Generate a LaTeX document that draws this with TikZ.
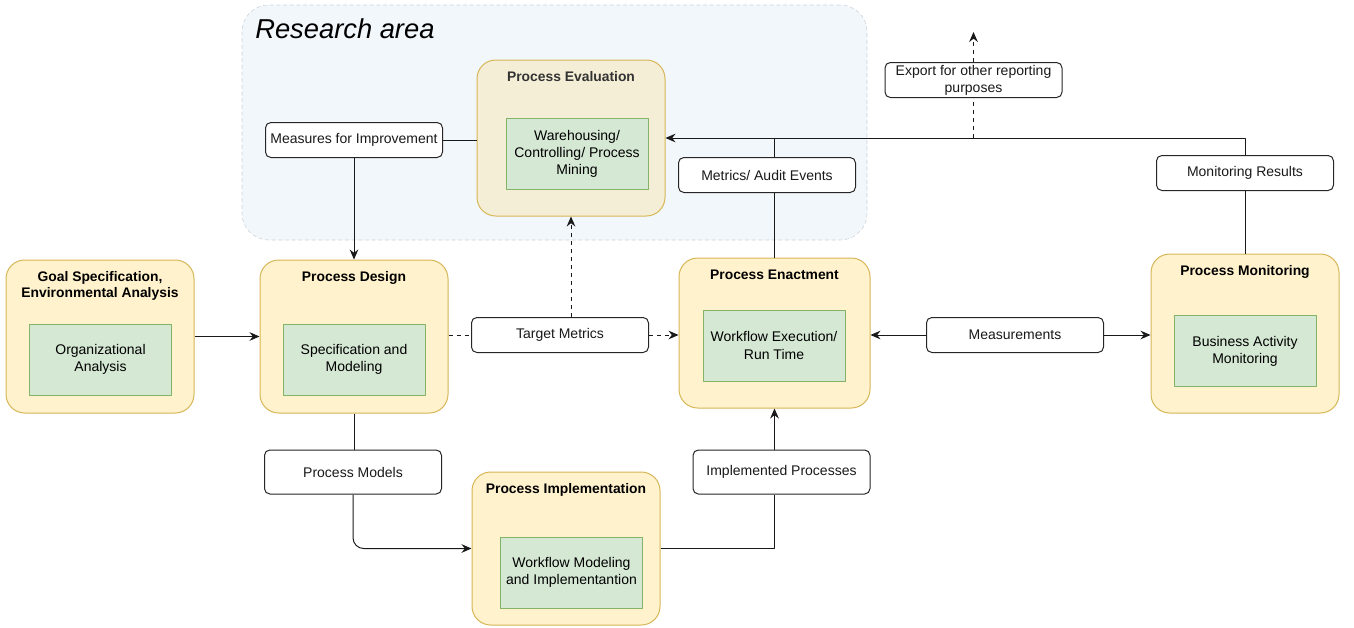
\documentclass[tikz,border=0pt]{standalone}
\usepackage{fontspec}
\setmainfont{Liberation Sans}
\usepackage{xcolor}
\usepackage{tikz}
\usetikzlibrary{calc,positioning,arrows.meta}

\definecolor{phasefill}{HTML}{FFF2CC}
\definecolor{phasedraw}{HTML}{D6B656}
\definecolor{taskfill}{HTML}{D5E8D4}
\definecolor{taskdraw}{HTML}{82B366}
\definecolor{areafill}{HTML}{F2F7FC}
\definecolor{areadraw}{HTML}{CCD2D8}
\definecolor{evalfill}{HTML}{F5EED6}

\begin{document}
\begin{tikzpicture}[x=0.75pt, y=-0.75pt, line join=round,
	font=\fontsize{10.5}{12.8}\selectfont,
	phase/.style={draw=phasedraw, fill=phasefill, rounded corners=14pt, line width=0.75pt,
		minimum width=141pt, minimum height=114.75pt},
	task/.style={draw=taskdraw, fill=taskfill, line width=0.75pt, align=center, inner sep=2pt,
		minimum width=106.5pt, minimum height=53.25pt},
	phasetitle/.style={font=\bfseries\fontsize{10.4}{12}\selectfont, align=center, inner sep=0pt},
	flow/.style={draw=black!85, fill=white, rounded corners=4pt, line width=0.75pt, align=center,
		inner sep=1pt, text=black!90, minimum width=132.75pt, minimum height=26.25pt},
	conn/.style={line width=0.75pt, black!90},
	arr/.style={conn, -{Stealth[length=7.5pt, width=6.5pt, inset=2.5pt]}},
	dasharr/.style={arr, dash pattern=on 3pt off 3pt}]
	
	\useasboundingbox (0,0) rectangle (1354,628);
	
	%====================
	% 1) Research area (background)
	%====================
	\node[draw=areadraw, fill=areafill, dash pattern=on 3pt off 2pt, rounded corners=20pt,
		minimum width=468.75pt, minimum height=176.25pt] (research) at (554.5,122.5) {};
	\node[anchor=west, inner sep=0pt, font=\itshape\fontsize{20.5}{24}\selectfont] (areatitle) at (255,29) {Research area};
	
	%====================
	% 2) Phases with their tasks
	%====================
	\node[phase, fill=evalfill, minimum height=117pt] (eval) at (571,138) {};
	\node[task] (evaltask) at (577,153.5) {Warehousing/\\Controlling/ Process\\Mining};
	\node[phasetitle, text=black!80, below=8.5pt of eval.north] (evaltitle) {Process Evaluation};
	
	\node[phase] (goal) at (100,336.5) {};
	\node[task] (goaltask) at (100.5,359.5) {Organizational\\Analysis};
	\node[phasetitle, below=9pt of goal.north] (goaltitle) {Goal Specification,\\Environmental Analysis};
	
	\node[phase] (design) at (354,336.5) {};
	\node[task] (designtask) at (354,359.5) {Specification and\\Modeling};
	\node[phasetitle, below=8.5pt of design.north] (designtitle) {Process Design};
	
	\node[phase, minimum width=143.25pt, minimum height=112.5pt] (enact) at (774.5,333) {};
	\node[task] (enacttask) at (774,345.5) {Workflow Execution/\\Run Time};
	\node[phasetitle, below=9.5pt of enact.north] (enacttitle) {Process Enactment};
	
	\node[phase, minimum height=119.25pt] (monitor) at (1245,333.5) {};
	\node[task] (monitortask) at (1245,351) {Business Activity\\Monitoring};
	\node[phasetitle, below=8.5pt of monitor.north] (monitortitle) {Process Monitoring};
	
	\node[phase] (impl) at (566,548.5) {};
	\node[task] (impltask) at (571.5,572.5) {Workflow Modeling\\and Implementantion};
	\node[phasetitle, below=8.5pt of impl.north] (impltitle) {Process Implementation};
	
	%====================
	% 3) Flow labels
	%====================
	\node[flow] (measures) at (354,140) {Measures for Improvement};
	\node[flow] (target)   at (560,335) {Target Metrics};
	\node[flow] (metrics)  at (767,175) {Metrics/ Audit Events};
	\node[flow] (export)   at (973.5,80) {Export for other reporting\\purposes};
	\node[flow] (monres)   at (1245,173) {Monitoring Results};
	\node[flow] (meas)     at (1015,335) {Measurements};
	\node[flow, minimum height=33pt] (pmodels) at (353,472) {Process Models};
	\node[flow, minimum height=33pt] (implp)   at (781.5,472) {Implemented Processes};
	
	\coordinate (exportout) at (973.5,32);
	
	%====================
	% 4) Connectors
	%====================
	\draw[arr] (goal.east) -- (design.west);
	
	\draw[conn] (eval.west |- measures) -- (measures.east);
	\draw[arr] (measures.south) -- (design.north);
	
	\draw[conn, dash pattern=on 3pt off 3pt] (design.east |- target) -- (target.west);
	\draw[dasharr] (target.east) -- (enact.west |- target);
	\draw[dasharr] (eval.south |- target.north) -- (eval.south);
	
	\draw[conn] (enact.north) -- (enact.north |- metrics.south);
	\draw[conn] (enact.north |- metrics.north) -- (enact.north |- eval.east);
	\draw[arr] (monres.north) |- (eval.east);
	\draw[conn] (monres.south) -- (monitor.north);
	
	\draw[conn, dash pattern=on 3pt off 3pt] (export.south |- eval.east) -- (export.south);
	\draw[dasharr] (export.north) -- (exportout);
	
	\draw[arr] (meas.west) -- (enact.east |- meas);
	\draw[arr] (meas.east) -- (monitor.west |- meas);
	
	\draw[conn] (design.south) -- (design.south |- pmodels.north);
	\draw[arr, rounded corners=8pt] (pmodels.south) |- (impl.west);
	\draw[conn] (impl.east) -| (enact.south |- implp.south);
	\draw[arr] (enact.south |- implp.north) -- (enact.south);
	
\end{tikzpicture}
\end{document}
